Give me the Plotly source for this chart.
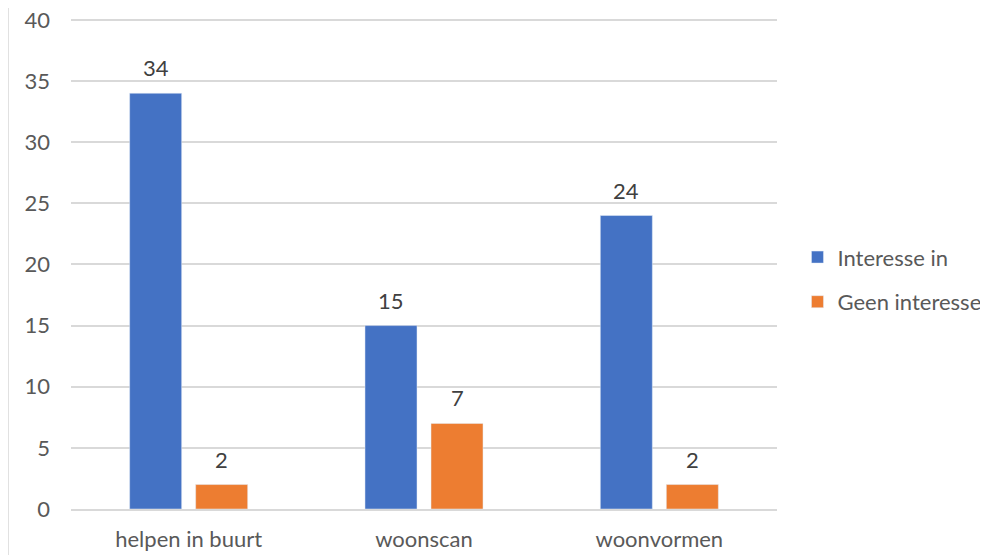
import plotly.graph_objects as go

categories = ["helpen in buurt", "woonscan", "woonvormen"]
interesse_in = [34, 15, 24]
geen_interesse = [2, 7, 2]
y_ticks = [0, 5, 10, 15, 20, 25, 30, 35, 40]

font_color = "#595959"
label_color = "#404040"
grid_color = "#D9D9D9"

fig = go.Figure()
fig.add_trace(go.Bar(
    name="Interesse in", x=categories, y=interesse_in,
    marker=dict(color="#4472C4"), legendgroup="a"
))
fig.add_trace(go.Bar(
    name="Geen interesse", x=categories, y=geen_interesse,
    marker=dict(color="#ED7D31"), legendgroup="b"
))

# data labels a bit above the bars (as in the Excel original)
for vals, shift in [(interesse_in, -33), (geen_interesse, 33)]:
    for cat, v in zip(categories, vals):
        fig.add_annotation(x=cat, y=v, text=str(v), showarrow=False,
                           yanchor="bottom", yshift=10, xshift=shift,
                           font=dict(size=22, color=label_color))

fig.update_layout(
    width=980, height=547,
    plot_bgcolor="white", paper_bgcolor="white",
    font=dict(family="Lato, Liberation Sans, Arial", size=22, color=font_color),
    margin=dict(l=63, r=211, t=7, b=46, autoexpand=False),
    barmode="group", bargap=0.439, bargroupgap=0.212,
    legend=dict(x=1.029, y=0.464, xanchor="left", yanchor="middle",
                tracegroupgap=13, font=dict(size=22, color=font_color)),
    shapes=[dict(type="line", xref="paper", yref="paper",
                 x0=-0.0892, x1=-0.0892, y0=-0.2, y1=1.1,
                 line=dict(color=grid_color, width=1.5))]
)
fig.update_yaxes(range=[0, 40.4], tickvals=y_ticks, gridcolor=grid_color,
                 gridwidth=1.5, zeroline=False, showline=False,
                 ticks="", ticklabelstandoff=20, automargin=False,
                 ticklabeloverflow="allow")
fig.update_xaxes(showline=True, linecolor=grid_color, linewidth=1.5,
                 ticks="", ticklabelstandoff=10, automargin=False)

fig.write_html("out.html")
